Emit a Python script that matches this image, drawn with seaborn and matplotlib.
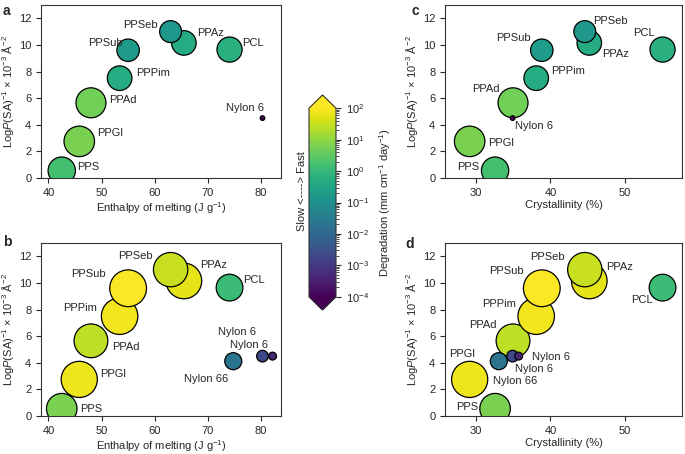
import numpy as np
import pandas as pd
import matplotlib
matplotlib.use("Agg")
import matplotlib.pyplot as plt
import matplotlib.colors as mcolors
import seaborn as sns

# polyesters
polymers = ["PPS", "PPGl", "PPAd", "PPPim", "PPSub", "PPAz", "PPSeb", "PCL"]
logp_sa = [0.55, 2.75, 5.65, 7.5, 9.6, 10.15, 11.0, 9.65]
enthalpy = [42.5, 45.8, 48.0, 53.4, 55.0, 65.5, 63.0, 74.1]
crystallinity = [32.6, 29.2, 35.0, 38.1, 38.85, 45.2, 44.6, 55.0]

# nylons
nylons = ["Nylon 6", "Nylon 6", "Nylon 66"]
nylon_logp_sa = [4.5, 4.5, 4.12]
nylon_enthalpy = [80.3, 82.2, 74.8]
nylon_crystallinity = [34.95, 35.75, 33.1]

# degradation rate (mm cm-1 day-1), two conditions
rate_top = [1.6, 6.3, 5.0, 0.5, 0.2, 0.5, 0.16, 0.63]
rate_top_nylon = [1e-4]
rate_bottom = [6.3, 70, 25, 80, 90, 56, 32, 1.26]
rate_bottom_nylon = [2e-3, 4e-4, 2e-2]


def make_df(rates, nylon_rates):
    n = len(nylon_rates)
    df = pd.DataFrame({
        "name": polymers + nylons[:n],
        "logp": logp_sa + nylon_logp_sa[:n],
        "enthalpy": enthalpy + nylon_enthalpy[:n],
        "cryst": crystallinity + nylon_crystallinity[:n],
        "rate": rates + nylon_rates,
    })
    df["lograte"] = np.log10(df["rate"])
    return df


df_top = make_df(rate_top, rate_top_nylon)
df_bottom = make_df(rate_bottom, rate_bottom_nylon)

# label offsets in pixels (dx, dy, ha)
offs_a = [(15, 4, "left"), (18, 8, "left"), (18, 3, "left"), (17, 5, "left"),
          (-5, 7, "right"), (13, 10, "left"), (-13, 7, "right"), (13, 7, "left"),
          (-17, 10, "center")]
offs_b = [(18, 0, "left"), (21, 5, "left"), (21, -6, "left"), (-23, 8, "right"),
          (-22, 14, "right"), (16, 16, "left"), (-18, 14, "right"), (14, 8, "left"),
          (-25, 24, "center"), (-24, 11, "center"), (-27, -18, "center")]
offs_c = [(-16, 4, "right"), (18, -2, "left"), (-13, 14, "right"), (15, 7, "left"),
          (-11, 12, "right"), (13, -11, "left"), (8, 11, "left"), (-8, 17, "right"),
          (2, -8, "left")]
offs_d = [(-17, 2, "right"), (-8, 25, "center"), (-16, 16, "right"), (-20, 12, "right"),
          (-18, 17, "right"), (17, 14, "left"), (-20, 13, "right"), (-10, -12, "right"),
          (2, -13, "left"), (13, -1, "left"), (-6, -20, "left")]

sns.set_style("ticks")
plt.rcParams["font.family"] = ["Liberation Sans", "DejaVu Sans"]
plt.rcParams["mathtext.fontset"] = "custom"
plt.rcParams["mathtext.rm"] = "Liberation Sans"
plt.rcParams["mathtext.it"] = "Liberation Sans:italic"
plt.rcParams["mathtext.bf"] = "Liberation Sans:bold"
plt.rcParams["font.size"] = 8
plt.rcParams["axes.linewidth"] = 0.8
plt.rcParams["axes.edgecolor"] = "#333333"

fig = plt.figure(figsize=(6.85, 4.54), dpi=100)
ax_a = fig.add_axes([0.0599, 0.608, 0.3504, 0.381])
ax_b = fig.add_axes([0.0599, 0.0837, 0.3504, 0.381])
ax_c = fig.add_axes([0.6496, 0.608, 0.346, 0.381])
ax_d = fig.add_axes([0.6496, 0.0837, 0.346, 0.381])

size_norm = mcolors.PowerNorm(gamma=2, vmin=-4.85, vmax=2)
ylab = r"Log$\it{P}$(SA)$^{-1}$ × 10$^{-3}$ Å$^{-2}$"

panels = [
    (ax_a, df_top, "enthalpy", offs_a, "Enthalpy of melting (J g$^{-1}$)", (38.6, 83.8), [40, 50, 60, 70, 80]),
    (ax_b, df_bottom, "enthalpy", offs_b, "Enthalpy of melting (J g$^{-1}$)", (38.6, 83.8), [40, 50, 60, 70, 80]),
    (ax_c, df_top, "cryst", offs_c, "Crystallinity (%)", (25.9, 57.6), [30, 40, 50]),
    (ax_d, df_bottom, "cryst", offs_d, "Crystallinity (%)", (25.9, 57.6), [30, 40, 50]),
]

for ax, df, xcol, offs, xlab, xlim, xticks in panels:
    sns.scatterplot(data=df, x=xcol, y="logp", hue="lograte", size="lograte",
                    palette="viridis", hue_norm=(-4, 2), sizes=(0, 710),
                    size_norm=size_norm, edgecolor="black", linewidth=0.9,
                    alpha=1, legend=False, ax=ax, zorder=3)
    for (name, x, y), (dx, dy, ha) in zip(df[["name", xcol, "logp"]].values, offs):
        ax.annotate(name, (x, y), xytext=(dx, dy), textcoords="offset pixels",
                    ha=ha, va="center", fontsize=8, zorder=5)
    ax.set_xlim(*xlim)
    ax.set_ylim(0, 13)
    ax.set_xticks(xticks)
    ax.set_yticks(range(0, 13, 2))
    ax.set_xlabel(xlab, labelpad=1.5)
    ax.set_ylabel(ylab, labelpad=2)
    ax.tick_params(labelsize=8, length=3.5, width=0.8)

fig.text(0.004, 0.992, "a", fontweight="bold", fontsize=10, va="top")
fig.text(0.004, 1 - 235 / 454, "b", fontweight="bold", fontsize=10, va="top")
fig.text(411 / 685, 0.992, "c", fontweight="bold", fontsize=10, va="top")
fig.text(405 / 685, 1 - 237 / 454, "d", fontweight="bold", fontsize=10, va="top")

cax = fig.add_axes([309 / 685, (454 - 310) / 454, 27 / 685, 215 / 454])
sm = plt.cm.ScalarMappable(norm=mcolors.LogNorm(1e-4, 1e2), cmap="viridis")
cb = fig.colorbar(sm, cax=cax, extend="both", extendfrac=0.07)
cb.set_label("Degradation (mm cm$^{-1}$ day$^{-1}$)", fontsize=8, labelpad=6)
cb.ax.tick_params(labelsize=8, width=0.8)
cb.outline.set_linewidth(0.8)
cax.text(-0.26, 0.56, "Slow <----> Fast", rotation=90, ha="center", va="center",
         fontsize=8, transform=cax.transAxes)

fig.savefig("out.png", dpi=100)
